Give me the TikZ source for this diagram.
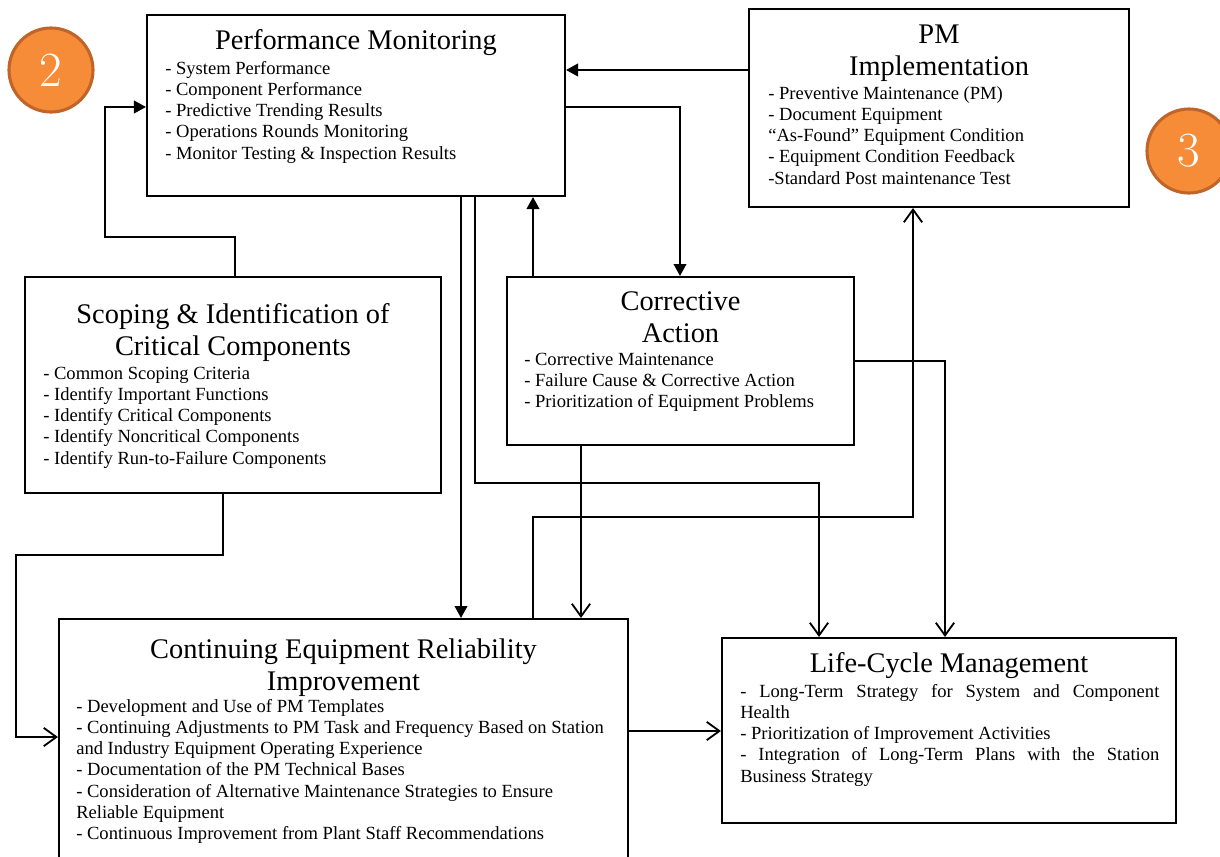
\documentclass[tikz,border=0pt]{standalone}
\usepackage{fontspec}
\usepackage{tikz}
\usetikzlibrary{arrows.meta,fit,positioning}
\newfontfamily\tnr{Liberation Serif}
\newcommand{\ttlfont}{\tnr\fontsize{20.2}{22.8}\selectfont}
\newcommand{\itmfont}{\tnr\fontsize{13.2}{15.15}\selectfont}
\definecolor{badgefill}{RGB}{246,139,56}
\definecolor{badgeline}{RGB}{192,101,42}

\begin{document}
\begin{tikzpicture}[x=0.025cm, y=-0.025cm,
  box/.style = {draw, line width=1.5pt, inner sep=0pt},
  title/.style = {font=\ttlfont, align=flush center, inner sep=0pt, anchor=base},
  items/.style = {font=\itmfont, align=flush left, inner sep=0pt, anchor=base west},
  arrfill/.style = {line width=1.3pt, -{Triangle[length=8.5pt,width=9pt]}},
  arropen/.style = {line width=1.3pt, -{Straight Barb[length=9pt,width=13pt]}},
  badge/.style = {circle, fill=badgefill, draw=badgeline, line width=2.2pt,
    minimum size=2.1cm, inner sep=0pt, text=white,
    font=\fontsize{35}{35}\selectfont}]
  \clip (0,0) rectangle (1220,856);

  % boxes
  \node[box, fit={(147,15) (565,196)}] (pm) {};
  \node[box, fit={(749,9) (1129,207)}] (pmi) {};
  \node[box, fit={(25,277) (441,493)}] (scope) {};
  \node[box, fit={(507,277) (854,445)}] (ca) {};
  \node[box, fit={(59,619) (628,880)}] (ceri) {};
  \node[box, fit={(722,638) (1176,823)}] (lcm) {};

  \node[badge] (two) at (51,70) {2};
  \node[badge] (three) at (1189,151) {3};

  % Performance Monitoring
  \node[title, text width=10cm] (pm-title) at (pm.north |- 0,49) {Performance Monitoring};
  \node[items, text width=9.5cm] (pm-list) at (165,74) {- System Performance\\
    - Component Performance\\
    - Predictive Trending Results\\
    - Operations Rounds Monitoring\\
    - Monitor Testing \& Inspection Results};

  % PM Implementation
  \node[title, text width=9cm] (pmi-title) at (pmi.north |- 0,43) {PM\\Implementation};
  \node[items, text width=9cm] (pmi-list) at (768,99) {- Preventive Maintenance (PM)\\
    - Document Equipment\\
    “As-Found” Equipment Condition\\
    - Equipment Condition Feedback\\
    -Standard Post maintenance Test};

  % Scoping
  \node[title, text width=10cm] (scope-title) at (scope.north |- 0,323) {Scoping \& Identification of\\Critical Components};
  \node[items, text width=9.8cm] (scope-list) at (43,379) {- Common Scoping Criteria\\
    - Identify Important Functions\\
    - Identify Critical Components\\
    - Identify Noncritical Components\\
    - Identify Run-to-Failure Components};

  % Corrective Action
  \node[title, text width=8.5cm] (ca-title) at (ca.north |- 0,310) {Corrective\\Action};
  \node[items, text width=8.2cm] (ca-list) at (524,365) {- Corrective Maintenance\\
    - Failure Cause \& Corrective Action\\
    - Prioritization of Equipment Problems};

  % Continuing Equipment Reliability Improvement
  \node[title, text width=14cm] (ceri-title) at (ceri.north |- 0,658) {Continuing Equipment Reliability\\Improvement};
  \node[items, text width=14cm] (ceri-list) at (76,712) {- Development and Use of PM Templates\\
    - Continuing Adjustments to PM Task and Frequency Based on Station\\
    and Industry Equipment Operating Experience\\
    - Documentation of the PM Technical Bases\\
    - Consideration of Alternative Maintenance Strategies to Ensure\\
    Reliable Equipment\\
    - Continuous Improvement from Plant Staff Recommendations};

  % Life-Cycle Management
  \node[title, text width=11cm] (lcm-title) at (lcm.north |- 0,672) {Life-Cycle Management};
  \node[items, text width=10.475cm] (lcm-list) at (740,697) {\makebox[10.475cm][s]{- Long-Term Strategy for System and Component}\\
    Health\\
    - Prioritization of Improvement Activities\\
    \makebox[10.475cm][s]{- Integration of Long-Term Plans with the Station}\\
    Business Strategy};

  % connectors
  \draw[arrfill] (pmi.west |- 0,70) -- (pm.east |- 0,70);
  \draw[arrfill] (scope.north -| 235,0) |- (105,237) |- (pm.west |- 0,107);
  \draw[arrfill] (pm.east |- 0,107) -| (ca.north -| 680,0);
  \draw[arrfill] (ca.north -| 533,0) -- (pm.south -| 533,0);
  \draw[arrfill] (pm.south -| 461,0) -- (ceri.north -| 461,0);
  \draw[arropen] (pm.south -| 475,0) |- (819,483) -- (lcm.north -| 819,0);
  \draw[arropen] (ca.east |- 0,361) -| (lcm.north -| 945,0);
  \draw[arropen] (ca.south -| 581,0) -- (ceri.north -| 581,0);
  \draw[arropen] (ceri.north -| 533,0) |- (913,517) -- (pmi.south -| 913,0);
  \draw[arropen] (scope.south -| 223,0) |- (16,555) |- (ceri.west |- 0,737);
  \draw[arropen] (ceri.east |- 0,731) -- (lcm.west |- 0,731);
\end{tikzpicture}
\end{document}
